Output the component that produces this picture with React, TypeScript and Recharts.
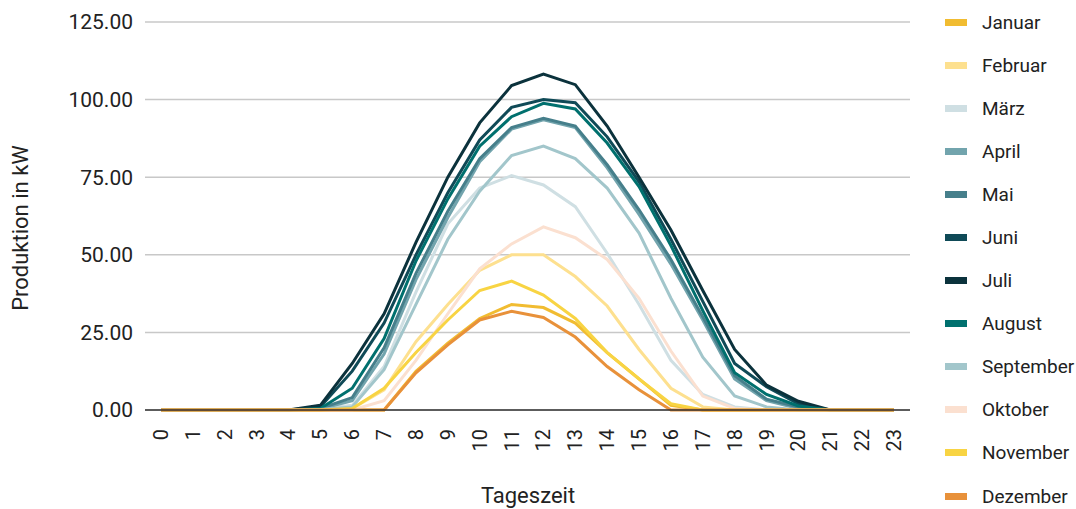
import React from "react";
import { LineChart, Line, XAxis, YAxis, CartesianGrid } from "recharts";

const hours = Array.from({ length: 24 }, (_, i) => String(i));

const months = [
  "Januar",
  "Februar",
  "März",
  "April",
  "Mai",
  "Juni",
  "Juli",
  "August",
  "September",
  "Oktober",
  "November",
  "Dezember",
];

const colors = [
  "#f1bc31",
  "#fde08f",
  "#cfdfe3",
  "#72a4ad",
  "#467f8b",
  "#0f4a57",
  "#0b323c",
  "#00706e",
  "#a2c6cb",
  "#fbe0d0",
  "#f8d443",
  "#e8913a",
];

const januar = [0, 0, 0, 0, 0, 0, 0, 0, 12.5, 21.5, 29.5, 34, 33, 28, 18.5, 10, 1.5, 0, 0, 0, 0, 0, 0, 0];
const februar = [0, 0, 0, 0, 0, 0, 0.5, 6.5, 22, 34, 45, 50, 50, 43, 33.5, 19.5, 7, 1, 0, 0, 0, 0, 0, 0];
const maerz = [0, 0, 0, 0, 0, 0.3, 1.5, 14, 38, 60, 71.5, 75.5, 72.5, 65.5, 50.5, 34, 16, 5, 1, 0, 0, 0, 0, 0];
const april = [0, 0, 0, 0, 0, 0.3, 3, 18, 42, 62, 80, 90.5, 93.5, 91, 78, 63, 47, 29, 10, 3, 0.5, 0, 0, 0];
const mai = [0, 0, 0, 0, 0, 0.5, 4, 20, 44, 64, 81, 91, 94, 91.5, 79, 64.5, 48.5, 30, 11, 3.5, 1, 0, 0, 0];
const juni = [0, 0, 0, 0, 0, 1, 12.5, 28, 50, 70, 87, 97.5, 100, 99, 88, 73.5, 55, 35, 15, 7.5, 2, 0, 0, 0];
const juli = [0, 0, 0, 0, 0, 1.5, 15, 31, 54, 75, 92.5, 104.5, 108.2, 104.8, 91.5, 75, 58, 38.5, 19.5, 8, 2.8, 0, 0, 0];
const august = [0, 0, 0, 0, 0, 0.5, 7, 23, 48, 68, 85, 94.5, 98.8, 97, 86, 72, 53, 32, 12, 5, 1.3, 0, 0, 0];
const september = [0, 0, 0, 0, 0, 0.2, 1, 13, 34, 55, 70.5, 82, 85, 81, 71.5, 57, 36, 17, 4.5, 1, 0, 0, 0, 0];
const oktober = [0, 0, 0, 0, 0, 0, 0, 3, 16, 31, 45.5, 53.5, 59, 55.5, 48.5, 36, 19, 4.5, 0.5, 0, 0, 0, 0, 0];
const november = [0, 0, 0, 0, 0, 0, 0.5, 7, 18.5, 29, 38.5, 41.5, 37, 29.5, 18.5, 10, 2, 0, 0, 0, 0, 0, 0, 0];
const dezember = [0, 0, 0, 0, 0, 0, 0, 0, 12, 21, 29, 31.8, 29.8, 23.5, 14, 6.5, 0, 0, 0, 0, 0, 0, 0, 0];

const series = [
  januar,
  februar,
  maerz,
  april,
  mai,
  juni,
  juli,
  august,
  september,
  oktober,
  november,
  dezember,
];

const yTicks = [0, 25, 50, 75, 100, 125];

const data = hours.map((h, i) => {
  const row: Record<string, string | number> = { hour: h };
  months.forEach((m, k) => {
    row[m] = series[k][i];
  });
  return row;
});

const FONT = "Roboto, 'Noto Sans', sans-serif";

function HourTick({ x, y, payload }: any) {
  return (
    <text
      transform={`translate(${x},${y + 11}) rotate(-90)`}
      textAnchor="end"
      dominantBaseline="central"
      fontSize={20}
      fontFamily={FONT}
      fill="#222"
    >
      {payload.value}
    </text>
  );
}

export default function App() {
  return (
    <div style={{ position: "absolute", left: 0, top: 0, width: 1076, height: 509, background: "#fff" }}>
      <LineChart
        width={1076}
        height={509}
        data={data}
        margin={{ top: 22, right: 166, left: 0, bottom: 0 }}
      >
        <CartesianGrid vertical={false} stroke="#c8c8c8" strokeWidth={1.5} />
        <XAxis
          dataKey="hour"
          height={99}
          padding={{ left: 16, right: 16 }}
          interval={0}
          tickLine={false}
          axisLine={{ stroke: "#333", strokeWidth: 1.5 }}
          tick={<HourTick />}
          label={{
            content: () => (
              <text
                x={528}
                y={495}
                textAnchor="middle"
                dominantBaseline="central"
                fontSize={22}
                fontFamily={FONT}
                fill="#222"
              >
                Tageszeit
              </text>
            ),
          }}
        />
        <YAxis
          width={145}
          domain={[0, 125]}
          ticks={yTicks}
          tickFormatter={(v: number) => v.toFixed(2)}
          axisLine={false}
          tickLine={false}
          tickSize={0}
          tickMargin={12}
          tick={{ fontSize: 21, fontFamily: FONT, fill: "#222" }}
          label={{
            content: () => (
              <text
                transform="translate(20,228) rotate(-90)"
                textAnchor="middle"
                dominantBaseline="central"
                fontSize={22}
                fontFamily={FONT}
                fill="#222"
              >
                Produktion in kW
              </text>
            ),
          }}
        />
        {months.map((m, k) => (
          <Line
            key={m}
            type="linear"
            dataKey={m}
            stroke={colors[k]}
            strokeWidth={3}
            dot={false}
            activeDot={false}
            isAnimationActive={false}
          />
        ))}
      </LineChart>
      {/* legend on the right */}
      <div style={{ position: "absolute", left: 945, top: 0.5, fontFamily: FONT, fontSize: 19, color: "#222" }}>
        {months.map((m, k) => (
          <div key={m} style={{ height: 43.1, display: "flex", alignItems: "center" }}>
            <div style={{ width: 22, height: 7, background: colors[k], marginRight: 15 }} />
            <span>{m}</span>
          </div>
        ))}
      </div>
    </div>
  );
}
